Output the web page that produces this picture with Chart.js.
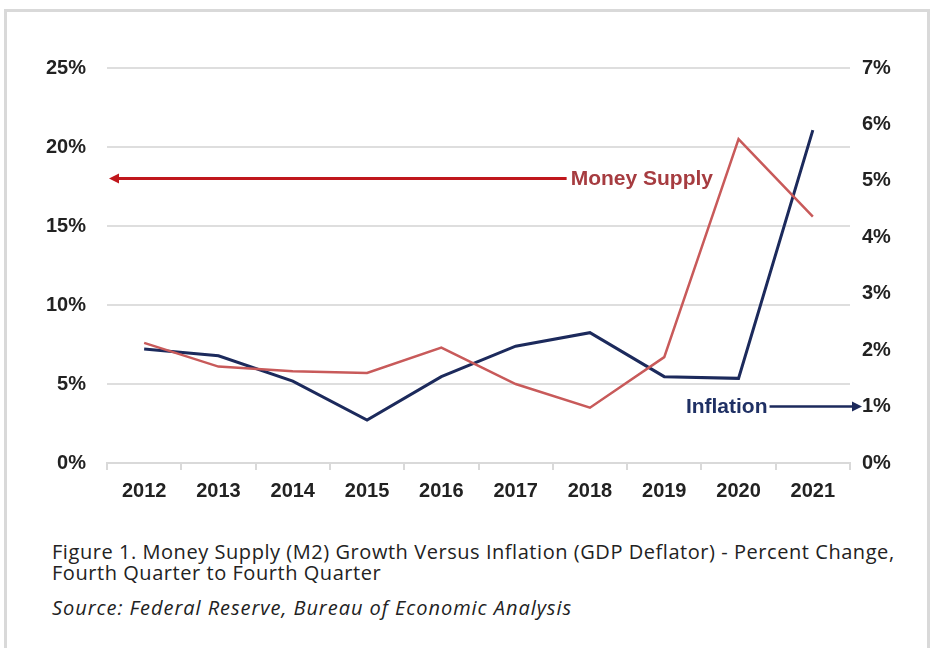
<!DOCTYPE html>
<html>
<head>
<meta charset="utf-8">
<script src="https://cdn.jsdelivr.net/npm/chart.js@4.4.0/dist/chart.umd.min.js"></script>
<style>
  body { margin: 0; background: #fff; width: 934px; height: 648px; overflow: hidden; position: relative; }
  #frame { position: absolute; left: 4px; top: 9px; width: 926px; height: 700px; box-sizing: border-box;
           border: 3px solid #d9d9d9; border-bottom: none; }
  #wrap { position: absolute; left: 0; top: 0; width: 934px; height: 520px; }
  .cap { position: absolute; left: 52px; font-family: "Open Sans", Lato, sans-serif; color: #222; font-size: 20px;
         letter-spacing: 0.55px; line-height: 21px; white-space: nowrap; }
  #fig { top: 541px; }
  #src { top: 597px; font-style: italic; letter-spacing: 0.95px; }
</style>
</head>
<body>
<div id="frame"></div>
<div id="wrap"><canvas id="chart"></canvas></div>
<div class="cap" id="fig">Figure 1. Money Supply (M2) Growth Versus Inflation (GDP Deflator) - Percent Change,<br>Fourth Quarter to Fourth Quarter</div>
<div class="cap" id="src">Source: Federal Reserve, Bureau of Economic Analysis</div>
<script>
const years = ['2012', '2013', '2014', '2015', '2016', '2017', '2018', '2019', '2020', '2021'];
const moneySupply = [7.6, 6.1, 5.8, 5.7, 7.3, 5.0, 3.5, 6.7, 20.5, 15.6];
const inflation = [2.02, 1.9, 1.45, 0.76, 1.53, 2.07, 2.31, 1.53, 1.5, 5.9];

const red = '#c85a5a';
const navy = '#1c2a5c';

// arrows + labels pointing at the axis each series belongs to
const arrowLabels = {
  id: 'arrowLabels',
  afterDatasetsDraw(chart) {
    const { ctx, chartArea, scales } = chart;
    ctx.save();
    ctx.font = 'bold 21px "Liberation Sans", Arial, sans-serif';
    ctx.textBaseline = 'middle';

    // Money Supply -> left axis
    let y = scales.y.getPixelForValue(18);
    let tx = scales.x.getPixelForValue(5.74);
    ctx.fillStyle = '#a63c40';
    ctx.textAlign = 'left';
    ctx.fillText('Money Supply', tx, y + 1);
    ctx.strokeStyle = '#c0171c';
    ctx.fillStyle = '#c0171c';
    ctx.lineWidth = 3;
    ctx.beginPath();
    ctx.moveTo(tx - 4, y);
    ctx.lineTo(chartArea.left + 10, y);
    ctx.stroke();
    ctx.beginPath();
    ctx.moveTo(chartArea.left + 2, y);
    ctx.lineTo(chartArea.left + 12, y - 5);
    ctx.lineTo(chartArea.left + 12, y + 5);
    ctx.closePath();
    ctx.fill();

    // Inflation -> right axis
    y = scales.y1.getPixelForValue(1);
    tx = scales.x.getPixelForValue(8.39);
    ctx.fillStyle = '#1f3064';
    ctx.textAlign = 'right';
    ctx.fillText('Inflation', tx, y + 1);
    const tip = scales.y1.left + 12;
    ctx.strokeStyle = navy;
    ctx.fillStyle = navy;
    ctx.lineWidth = 2.5;
    ctx.beginPath();
    ctx.moveTo(tx + 2, y);
    ctx.lineTo(tip - 8, y);
    ctx.stroke();
    ctx.beginPath();
    ctx.moveTo(tip, y);
    ctx.lineTo(tip - 10, y - 5);
    ctx.lineTo(tip - 10, y + 5);
    ctx.closePath();
    ctx.fill();
    ctx.restore();
  }
};

const tickFont = { family: '"Liberation Sans", Arial, sans-serif', size: 20, weight: 'bold' };

new Chart(document.getElementById('chart'), {
  type: 'line',
  data: {
    labels: years,
    datasets: [
      {
        label: 'Money Supply',
        data: moneySupply,
        yAxisID: 'y',
        borderColor: red,
        borderWidth: 2.5,
        pointRadius: 0,
        tension: 0,
        fill: false
      },
      {
        label: 'Inflation',
        data: inflation,
        yAxisID: 'y1',
        borderColor: navy,
        borderWidth: 3,
        pointRadius: 0,
        tension: 0,
        fill: false
      }
    ]
  },
  options: {
    responsive: true,
    maintainAspectRatio: false,
    animation: false,
    layout: { padding: { top: 68, left: 0, right: 0, bottom: 0 } },
    plugins: {
      legend: { display: false },
      tooltip: { enabled: false }
    },
    scales: {
      x: {
        offset: true,
        grid: { offset: true, drawOnChartArea: false, tickLength: 7, color: '#d9d9d9', lineWidth: 2 },
        border: { color: '#d9d9d9', width: 2 },
        ticks: { color: '#222', font: tickFont, padding: 9, maxRotation: 0 },
        afterFit(scale) { scale.height = 57; }
      },
      y: {
        position: 'left',
        min: 0,
        max: 25,
        ticks: { stepSize: 5, color: '#222', font: tickFont, padding: 21, callback: v => v + '%' },
        grid: { color: '#dedede', lineWidth: 2, drawTicks: false },
        border: { display: false },
        afterFit(scale) { scale.width = 107; }
      },
      y1: {
        position: 'right',
        min: 0,
        max: 7,
        ticks: { stepSize: 1, color: '#222', font: tickFont, padding: 12, callback: v => v + '%' },
        grid: { drawOnChartArea: false, drawTicks: false },
        border: { display: false },
        afterFit(scale) { scale.width = 84; }
      }
    }
  },
  plugins: [arrowLabels]
});
</script>
</body>
</html>
